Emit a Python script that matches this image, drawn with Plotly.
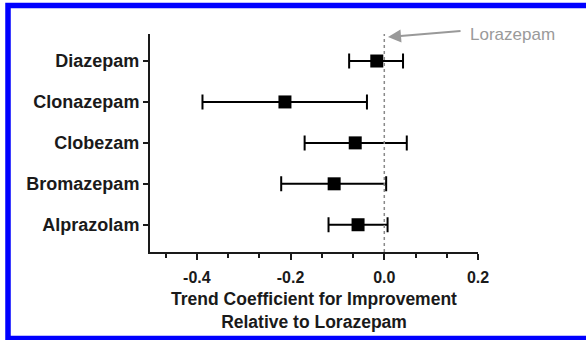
import plotly.graph_objects as go

# ---- data (bottom to top) ----
drugs = ["Alprazolam", "Bromazepam", "Clobezam", "Clonazepam", "Diazepam"]
estimate = [-0.056, -0.107, -0.062, -0.212, -0.016]
ci_lower = [-0.119, -0.220, -0.170, -0.388, -0.075]
ci_upper = [0.007, 0.004, 0.048, -0.037, 0.040]
x_ticks = [-0.4, -0.2, 0.0, 0.2]
x_tick_labels = ["-0.4", "-0.2", "0.0", "0.2"]
reference_label = "Lorazepam"

W, H = 586, 340
L, R, T, B = 150, 108, 34, 88
PW, PH = W - L - R, H - T - B


def px(x):
    return (x - L) / PW


def py(y):
    return (H - B - y) / PH


plus = [u - e for u, e in zip(ci_upper, estimate)]
minus = [e - l for e, l in zip(estimate, ci_lower)]

ink = "#1a1a1a"
font_fam = "Liberation Sans, Arial, Helvetica, sans-serif"

fig = go.Figure()
fig.add_trace(go.Scatter(
    x=estimate, y=drugs, mode="markers",
    marker=dict(symbol="square", size=13, color="black"),
    error_x=dict(type="data", array=plus, arrayminus=minus, symmetric=False,
                 thickness=2, width=7.5, color="black"),
    cliponaxis=False, showlegend=False, hoverinfo="x+y",
))

fig.update_layout(
    width=W, height=H,
    margin=dict(l=L, r=R, t=T, b=B, pad=0),
    paper_bgcolor="white", plot_bgcolor="white",
    font=dict(family=font_fam, color=ink),
    xaxis=dict(
        range=[-0.5, 0.2], tickvals=x_ticks, ticktext=x_tick_labels,
        showgrid=False, zeroline=False, showline=True, linewidth=2, linecolor=ink,
        ticks="outside", ticklen=6, tickwidth=2, tickcolor=ink,
        minor=dict(dtick=0.2 / 3, tick0=0, ticks="outside", ticklen=4, tickwidth=2, tickcolor=ink),
        tickfont=dict(size=16, weight="bold", color=ink, family=font_fam),
        ticklabelstandoff=4,
        title=dict(text="Trend Coefficient for Improvement<br>Relative to Lorazepam",
                   font=dict(size=17.5, weight="bold", color=ink, family=font_fam), standoff=8),
    ),
    yaxis=dict(
        type="category", categoryorder="array", categoryarray=drugs,
        range=[-0.666, 4.66],
        showgrid=False, zeroline=False, showline=True, linewidth=2, linecolor=ink,
        ticks="outside", ticklen=5, tickwidth=2, tickcolor=ink,
        tickfont=dict(size=18, weight="bold", color=ink, family=font_fam),
    ),
    shapes=[
        dict(type="line", xref="x", yref="paper", x0=0, x1=0, y0=0, y1=1,
             line=dict(color="#8a8a8a", width=1.5, dash="dot")),
        dict(type="rect", xref="paper", yref="paper",
             x0=px(8), x1=px(620), y0=py(338.5), y1=py(5.5),
             line=dict(color="#0000ff", width=5.5), fillcolor="rgba(0,0,0,0)", layer="above"),
    ],
    annotations=[
        dict(x=0.008, y=py(37), xref="x", yref="paper", text="", showarrow=True,
             ax=74, ay=-6, axref="pixel", ayref="pixel",
             arrowhead=2, arrowsize=1.3, arrowwidth=2, arrowcolor="#999999"),
        dict(x=px(468), y=py(34), xref="paper", yref="paper", text=reference_label,
             showarrow=False, xanchor="left", yanchor="middle",
             font=dict(size=17, color="#9a9a9a", family=font_fam)),
    ],
)

fig.write_html("out.html", config={"displayModeBar": False},
               post_script="document.body.style.margin='0';document.body.style.overflow='hidden';")
